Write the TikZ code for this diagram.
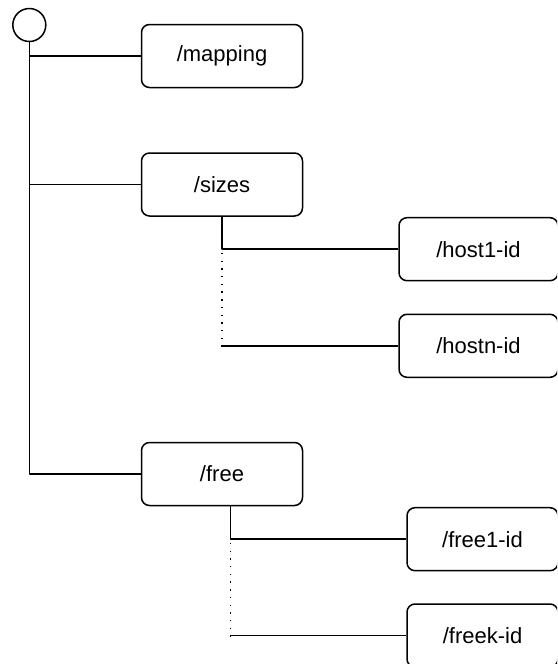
\documentclass[tikz,border=0pt]{standalone}
\usepackage{fontspec}
\setmainfont{Liberation Sans}
\begin{document}
\begin{tikzpicture}[x=1pt,y=-1pt,
  line width=1.5pt, line join=round,
  box/.style={draw, rounded corners=8pt, minimum width=161pt, minimum height=63pt,
    inner sep=0pt, font=\fontsize{22}{26}\selectfont},
  link/.style={draw},
  dotlink/.style={draw, line width=1.4pt, dash pattern=on 1.4pt off 6.3pt}]
\useasboundingbox (0,0) rectangle (557,664);
\begin{scope}
\clip (0,0) rectangle (557,664);
\node[draw, circle, minimum size=33pt, inner sep=0pt] (root) at (29.3,25) {};
\node[box] (mapping) at (222,56) {/mapping};
\node[box] (sizes) at (222,184.5) {/sizes};
\node[box] (free) at (222,474) {/free};
\node[box, minimum width=159pt] (host1) at (478.5,249.2) {/host1-id};
\node[box, minimum width=159pt] (hostn) at (478.5,345.8) {/hostn-id};
\node[box, minimum width=151pt] (free1) at (482.5,539.2) {/free1-id};
\node[box, minimum width=151pt] (freek) at (482.5,635.5) {/freek-id};
\coordinate (trunkend) at (29.3,474);
\coordinate (sb) at (222,249.2);
\coordinate (sd) at (222,345.8);
\coordinate (fb) at (230.5,539.2);
\coordinate (fd) at (230.5,635.5);
\draw[link] (root.south) -- (trunkend) -- (free.west);
\draw[link] (root.south |- mapping.west) -- (mapping.west);
\draw[link] (root.south |- sizes.west) -- (sizes.west);
\draw[link] (sizes.south) -- (sb) -- (host1.west);
\draw[dotlink] ([yshift=4pt]sb) -- ([yshift=-3pt]sd);
\draw[link] (sd) -- (hostn.west);
\draw[link] (free.south -| fb) -- (fb) -- (free1.west);
\draw[dotlink] ([yshift=4pt]fb) -- ([yshift=-3pt]fd);
\draw[link] (fd) -- (freek.west);
\end{scope}
\end{tikzpicture}
\end{document}
